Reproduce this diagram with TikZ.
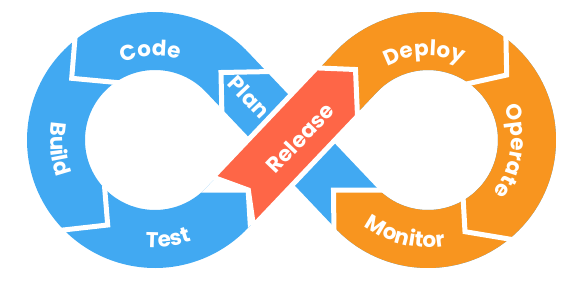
\documentclass[tikz,border=0pt]{standalone}
\usepackage{fontspec}
\newfontfamily\poppins{Poppins}
\usetikzlibrary{calc,decorations.text}
\definecolor{opsblue}{HTML}{41A9F2}
\definecolor{opsorange}{HTML}{F8951F}
\definecolor{opsred}{HTML}{FE6647}
\newcommand{\stagefont}{\poppins\bfseries\fontsize{21.5}{21.5}\selectfont}

\begin{document}
\begin{tikzpicture}[x=1pt, y=-1pt,
    gap/.style={white, line width=5pt, line join=miter},
    stage/.style={text=white, font=\stagefont, inner sep=0pt},
    curved/.style={decorate, decoration={text along path, text align=center, text color=white, text={|\stagefont|#1}}}
]
\useasboundingbox (0,0) rectangle (571,282);
\coordinate (lc) at (155,140);
\coordinate (rc) at (428,140);
\coordinate (x) at (291.5,140);

% band of the loop, coloured by regions
\begin{scope}[even odd rule]
\clip ($(lc)+(-43.5:128)$) arc[start angle=-43.5, end angle=-316.5, radius=128]
    -- ($(x)+(0,42.1)$) -- ($(rc)+(136.5:128)$) arc[start angle=136.5, end angle=-136.5, radius=128]
    -- ($(x)+(0,-42.1)$) -- cycle
  ($(lc)+(-43.5:70)$) arc[start angle=-43.5, end angle=-316.5, radius=70] -- ($(x)+(-40,0)$) -- cycle
  ($(rc)+(136.5:70)$) arc[start angle=136.5, end angle=-136.5, radius=70] -- ($(x)+(40,0)$) -- cycle;
\fill[opsblue] (0,0) rectangle (571,282);
\fill[opsorange] (300,67.2) -- (355.5,69.5) -- (358.9,150) -- (400,165) -- (390,190) -- (333.5,190)
    -- (333.5,270) -- (580,270) -- (580,0) -- (300,0) -- cycle;
\fill[white] (245.8,192.5) -- (248.8,242) -- (268,242) -- (268,160) -- (200,160) -- (200,192.5) -- cycle;
\end{scope}

% gaps between stages
\draw[gap] (272,71.5) -- (221,72.5) -- (222,118);
\draw[gap] (75.4,33) -- (71.7,78.3) -- (125,83.3);
\draw[gap] (104.5,186) -- (107.7,225) -- (57,230.7);
\draw[gap] (505.9,36) -- (506.7,75) -- (462,85);
\draw[gap] (463,196) -- (465,231.7) -- (512,239.5);
\draw[gap] (388,190) -- (333.5,190) -- (334,236);

% release arrow over the crossing
\draw[gap, fill=opsred] (212.9,177.1) -- (248.3,190) -- (253.5,225.8) -- (357.5,116.2)
    -- (355.5,69.5) -- (316.5,67.9) -- cycle;

\node[stage, rotate=-46.5] (plan) at (249,97) {Plan};
\node[stage, rotate=46.5] (release) at (300,138) {Release};
\path[curved=Code] ($(lc)+(-150:84)$) arc[start angle=-150, end angle=-36, radius=84];
\path[curved=Build] ($(lc)+(231.6:104.5)$) arc[start angle=231.6, end angle=117.6, radius=104.5];
\path[curved=Test] ($(lc)+(140:107.5)$) arc[start angle=140, end angle=25, radius=107.5];
\path[curved=Deploy] ($(rc)+(-155:84)$) arc[start angle=-155, end angle=-30, radius=84];
\path[curved=Operate] ($(rc)+(-55:83)$) arc[start angle=-55, end angle=70, radius=83];
\path[curved=Monitor] ($(rc)+(165:107.5)$) arc[start angle=165, end angle=42, radius=107.5];
\end{tikzpicture}
\end{document}
